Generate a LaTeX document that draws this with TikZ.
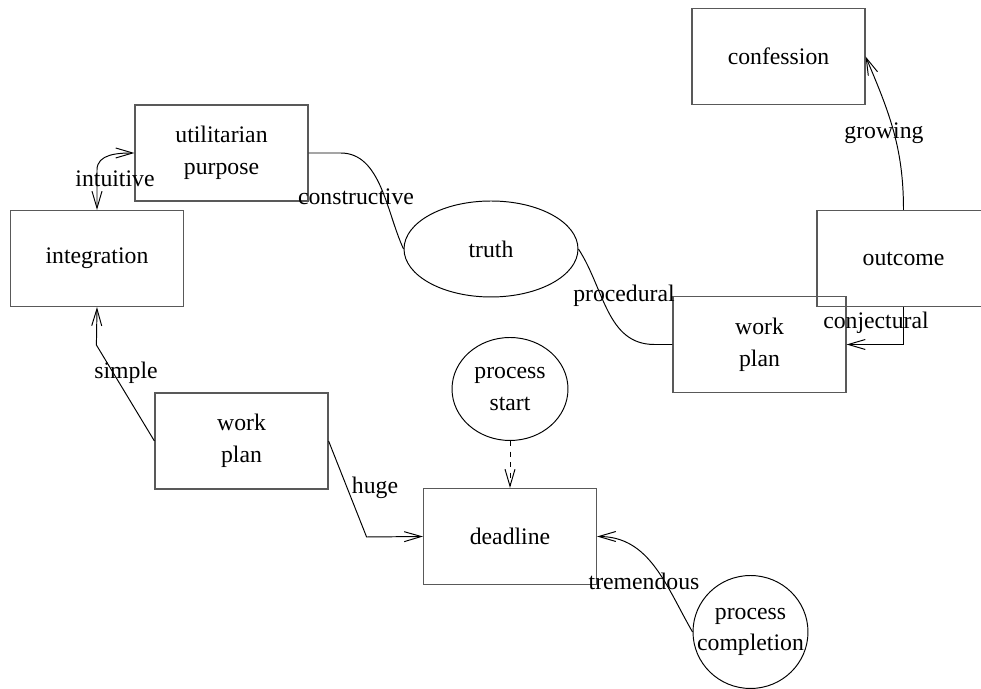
\documentclass[tikz,border=0pt]{standalone}
\usepackage{fontspec}
\setmainfont{Liberation Serif}
\usetikzlibrary{arrows.meta, shapes.geometric}

\begin{document}
\begin{tikzpicture}[
  x=0.02cm, y=0.02cm,
  font=\fontsize{13.5pt}{18pt}\selectfont,
  >={Straight Barb[length=3.4mm, width=2mm]},
  box/.style={rectangle, draw=black!65, line width=0.7pt, align=center,
              minimum width=3.46cm, minimum height=1.92cm, inner sep=0pt},
  oval/.style={ellipse, draw, line width=0.55pt, align=center, inner sep=-0.4cm},
  edge/.style={line width=0.55pt},
  arr/.style={edge, ->},
  lbl/.style={anchor=base, inner sep=0pt}
]
\useasboundingbox (0,0) rectangle (981,689);
\node[box] (purpose)  at (221.5,536)   {utilitarian\\purpose};
\node[box] (integ)    at (97,430.5)    {integration};
\node[box] (confess)  at (778.5,632.5) {confession};
\node[box] (outcome)  at (903.5,430.5) {outcome};
\node[box] (planb)    at (759.5,344.5) {work\\plan};
\node[box] (plana)    at (241.5,248)   {work\\plan};
\node[box] (deadline) at (510,152.5)   {deadline};
\node[oval, minimum width=3.48cm, minimum height=1.92cm] (truth)  at (491,440) {truth};
\node[oval, minimum width=2.32cm, minimum height=2.06cm] (start)  at (510,300) {process\\start};
\node[oval, minimum width=2.3cm,  minimum height=2.26cm] (finish) at (750.5,57) {process\\completion};
\draw[edge, <->] (integ.north) -- ++(0,40) to[out=90, in=180] (purpose.west);
\draw[edge] (purpose.east) -- ++(32,0) to[out=0, in=115, looseness=0.9] (truth.west);
\draw[edge] (planb.west) -- ++(-18,0) to[out=180, in=-57] (truth.east);
\draw[arr] (outcome.south) |- (planb.east);
\draw[arr] (outcome.north) to[out=90, in=-67] (confess.east);
\draw[arr] (plana.west) -- ++(-58,96) -- (integ.south);
\draw[arr] (plana.east) -- ++(38,-96) -- (deadline.west);
\draw[arr, dashed] (start) -- (deadline);
\draw[arr] (finish.west) to[out=120, in=0] (deadline.east);
\node[lbl] (l1) at (115,502)   {intuitive};
\node[lbl] (l2) at (356,484)   {constructive};
\node[lbl] (l3) at (624,387)   {procedural};
\node[lbl] (l4) at (876,360)   {conjectural};
\node[lbl] (l5) at (884,550)   {growing};
\node[lbl] (l6) at (126,310)   {simple};
\node[lbl] (l7) at (375,195)   {huge};
\node[lbl] (l8) at (644,99)    {tremendous};
\end{tikzpicture}
\end{document}
